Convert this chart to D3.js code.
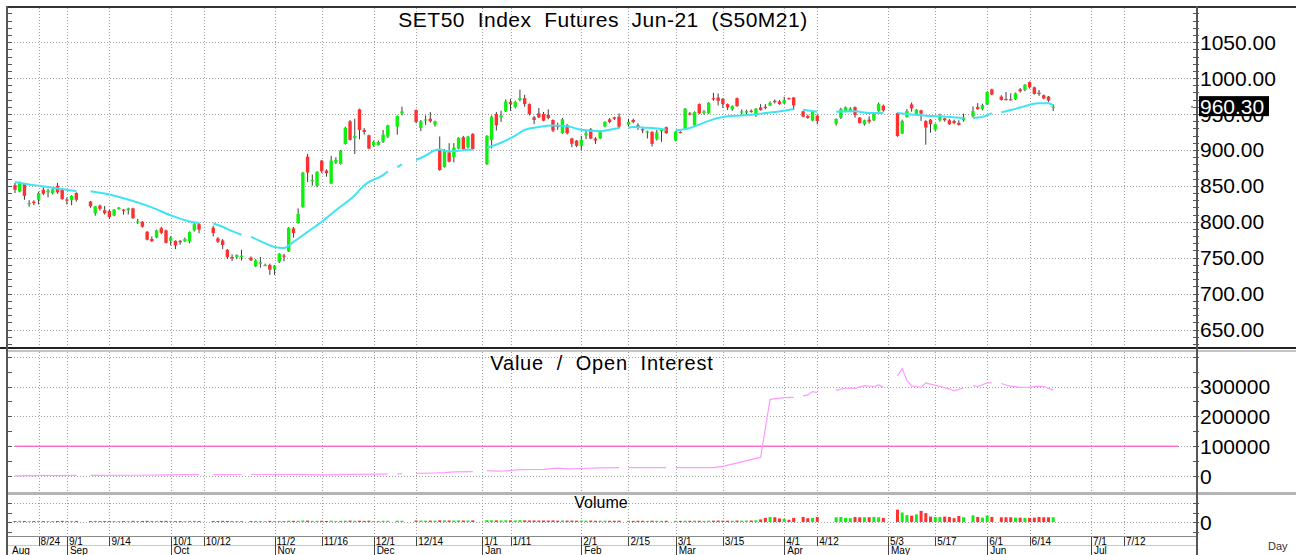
<!DOCTYPE html>
<html lang="en">
<head>
<meta charset="UTF-8">
<title>SET50 Index Futures Jun-21 (S50M21)</title>
<script src="https://d3js.org/d3.v7.min.js"></script>
<style>
  body { margin: 0; background: #fff; }
  svg { display: block; font-family: Arial, "Liberation Sans", sans-serif; }
</style>
</head>
<body>
<div id="chart"></div>
<script>
// candles: [slot (weekday index from 17 Aug 2020), open, high, low, close]
const candles = [
  [0,851,854,840,844.5],[1,842,856,841,854.6],[2,853,854,830.6,836],[3,825,830,821,826],[4,828,830,823,826],
  [5,830.6,842,824,840],[6,844.5,848,837,839],[7,841,846,834,843.5],[8,840,847,838,845],[9,850,854,839,841],
  [10,845.5,847,830.6,831.5],[11,831,834,824,830],[12,830,837,823,836],[13,840,841,828,830.6],
  [16,828,829,819.6,821.5],[17,812,822,808.5,821.5],[18,822.5,824,815.6,818],[19,816,822,810,812],
  [20,815,816.8,804,806.7],[21,808.5,817.7,807.6,817],[22,817.7,820.5,816.8,819.6],[23,817,817.7,810,816],
  [24,816,819.6,810,818.6],[25,818.6,819.6,804,805],[26,800,804,797,800.5],[27,800,801,791.8,793],
  [28,786,787,774,775],[29,776,779.6,772,773],[30,778,789,777,788],[31,791,793,782.8,784.6],
  [32,788,789,769.8,770.7],[33,773.5,780,767,778],[34,773.5,774,762,767],[35,773.5,774.5,768,771.6],
  [36,773,778,772,776],[37,772.6,786.4,770,785.5],[38,788,798.5,786.4,796.6],[39,796.6,798.5,784,789],
  [42,791.7,794.4,779.6,784.3],[43,776.8,778.7,770.4,772.2],[44,774,775.9,762,767.6],[45,761,762,748,751],
  [46,751,754.6,745.4,749],[47,751,754.6,748,753.7],[48,751,761,746,752.8],
  [50,750,751.8,745.4,746.3],[51,738,748,737,746.3],[52,741.7,751,736,743.5],[53,739,741.7,738,740],
  [54,740,741.7,726,733.3],[55,733.8,739.8,726,738.9],[56,744.4,756.3,742.6,755.5],[57,753,755.5,745,752.4],
  [58,758.8,792.6,757.9,791.7],[59,790.7,792.6,778,784.3],[60,798.2,818.5,797.3,811],[61,820.4,869.4,819.5,868.5],
  [62,890.7,894.4,855.5,868.5],[63,856.5,865.7,850.2,858.3],[64,850,870.4,848,869.4],[65,885.2,886.1,867.6,870.4],
  [66,871.3,873.1,862.8,867.6],[67,853,891.7,853,885.2],[68,882.4,889.8,880.5,886.1],[69,880.5,900,879.6,899],
  [70,908.3,932.4,907.4,930.6],[71,939.8,941.7,913,914],[72,916.8,943.5,894.4,919.6],[73,956.5,957.4,914.8,927.8],
  [74,927.8,930.6,921.3,925],[75,920.4,921.3,900.9,901.8],[76,906.5,913,904.6,911],[77,906.5,913,906.5,911.1],
  [78,911.6,927.8,909.7,921.3],[79,918.5,935.1,916.7,934.3],
  [81,932.4,948.1,921.3,947.2],[82,950.9,960.2,948.1,953.7],
  [85,955.5,956.5,937,939],[86,930.6,941.7,926,939.9],[87,942,948,935,942.6],[88,943.5,952.8,938,939.9],
  [89,935.2,940.8,932.5,939.9],[90,901,918.7,871,872],[91,876.3,901.2,875.4,898.4],[92,896.5,909.4,882.7,883.6],
  [93,890.1,909.4,882.7,903],[94,902,917.7,901,916.8],[95,917.7,919.6,900.3,901.2],[96,903.9,919.6,902,918.7],
  [97,922.4,923.3,900.3,901.2],
  [100,880,920.5,879,919.6],[101,914,948,902,946.3],[102,950,952.8,927,934.3],[103,945.4,954.6,939,948],
  [104,953.7,970.3,952.8,967.5],[105,966.6,971.2,954.6,963.8],[106,960,968.5,958,966.6],[107,969.4,984,967.5,972],
  [108,972,976.7,960,963.8],[109,963.8,964.7,948,950],[110,945.4,947.2,936,941.7],[111,951,958.3,944.5,945.4],
  [112,950,952.8,939.9,940.8],[113,949,956.5,942.6,944.5],[114,941.7,942.6,925,927],[115,933.4,938,927.9,932.5],
  [116,923.3,944.5,922.4,942.6],[117,934.3,936.2,921.4,923.3],[118,916,916.8,903.9,908.5],[119,913,913.9,903.9,905.7],
  [120,905.7,919.6,899.3,914],[121,920.5,927.9,915,923.3],[122,928.8,930.6,915,915.9],[123,915.9,917.7,908.4,913],
  [124,915.9,927.9,915,927],[125,932.5,939.9,931.6,939],[126,942.6,944.5,937,938.9],[127,945.4,946.3,941.7,943.5],
  [128,946.3,950.9,929.7,932.5],
  [130,935.3,943.5,932.5,938.9],[131,941.7,943.5,937.1,938.9],[132,934.3,937.1,927.9,931.6],[133,928.8,932.5,923.3,927],
  [134,924.2,926.9,915.9,925.9],[135,925.1,926,904.8,908.5],[136,915,927.9,913,924.2],[137,926,928.8,911.3,927.9],
  [138,931.6,932.5,922.4,923.3],
  [140,913.1,926,912.2,925.1],[141,925.1,926,923.3,924.2],[142,929.7,958.3,928.8,957.4],[143,950.9,952.8,948.2,949.1],
  [144,934.3,953.7,933.4,952.8],[145,963.8,964.7,949.9,950.9],[146,951.8,955.5,949.1,953.7],[147,950.9,966.6,950,965.7],
  [148,972.1,979.5,968.4,971.2],[149,973,978.6,962,968.4],[150,971.2,972.1,958.3,963.8],[151,963.8,964.7,955.5,959.2],
  [152,956.5,962,954.6,961],[153,972.1,973,960.1,961],[154,953.7,956.5,949.1,953.7],[155,952,956,950,954],
  [156,954.6,956.5,951.8,953.7],[157,949.1,958.3,946,957.4],[158,959.2,963.8,954.6,955.5],[159,960.1,963.8,956.5,958.3],
  [160,961.8,967.5,961,965.7],[161,968.4,970.3,964.7,966.6],[162,967.5,969.4,962.9,963.8],[163,964.7,974,963.8,969.4],
  [164,972.1,973,970.3,971.2],[165,973,973.5,955.5,962],
  [167,953.7,954.6,945.4,946.3],[168,947.2,949.1,943.5,944.5],[169,940.8,953.7,939.9,952.8],[170,947.7,949.5,935.8,940.4],
  [174,936.7,944,933.9,943.1],[175,945,958.7,943.1,956.9],[176,954.1,960.5,953.2,959.6],[177,954.1,959.6,953,957.8],
  [178,959.6,960.5,945,948.6],[179,945,945.9,936.7,937.6],[180,935.8,942.2,933.9,941.3],[181,942.2,946.8,936.7,939.4],
  [182,941.3,950.5,940.4,949.5],[183,954.1,966,953.2,964.2],[184,961.5,963.3,953.2,955],
  [187,951.4,952.3,918.3,919.3],[188,922.9,942.2,922,940.4],[189,945.9,956.9,945,954.1],[190,963.3,966,953.2,957.8],
  [191,949.5,956.9,947.7,956],[192,955,956,940.4,950.5],[193,940.4,941.3,907.3,931.2],[194,942.2,943.1,923.9,935.8],
  [195,928.4,936.7,926.6,935.8],[196,941.3,950.5,939.4,946.8],[197,944,944.9,939.4,941.3],[198,941.3,943.1,934.9,935.8],
  [199,940.4,942.2,935.8,937.6],[200,937.6,941.3,933.9,934.9],[201,941.3,950.5,939.4,945],
  [203,946.8,960.6,945,954.1],[204,959.6,965.1,956,956.9],[205,956.9,964.2,955,962.4],[206,963.3,981.7,962.4,980.7],
  [207,984.4,985.3,976.2,977.1],
  [209,974.3,976.2,968.8,969.7],[210,971,980.7,968.8,970.6],[211,970.6,978.9,968.8,969.7],[212,970.6,979.8,969.7,978.9],
  [213,984.4,986.2,979.8,981.7],[214,983.5,991.7,981.7,990.8],[215,994.5,995.4,985.3,987.2],[216,987.2,988.1,977.1,978],
  [217,979.8,983.5,975.2,978],[218,976.2,977.1,970.7,971.6],[219,974.3,975.2,967,968.8],[220,958.7,963.3,954.1,960.3]
];

// volume, one value per candle above (same order)
const volumes = [
  5000,6000,5500,4500,5000,6000,5000,4500,5000,5500,6000,4500,5000,5500,
  5000,6000,4500,5000,5500,5000,4500,5000,4500,6000,5000,5500,6000,4500,5000,5500,6000,5000,4500,5000,4500,5500,6000,5000,
  5500,5000,6000,5500,4500,5000,5000,
  5000,5500,5000,4500,6000,5000,5500,4500,7000,6000,6500,8000,7500,6000,6000,6500,5500,7000,5500,6500,7000,7500,6500,7000,6000,7000,5500,5500,6500,6500,
  7000,6500,
  8000,7500,7000,7500,7000,9000,8500,8000,8000,8500,8000,8000,8500,
  10000,9000,8500,8000,9000,8500,8000,9500,8500,8000,8000,7500,8000,7500,8500,7000,8000,7500,7500,7000,7500,7000,7500,6500,7000,7000,6500,6500,7000,
  6500,6000,6500,6500,6000,7000,6500,6000,6500,
  6500,6000,7000,6500,7000,6500,6000,7000,7000,7500,7000,7000,6500,7500,7000,7500,8000,9000,
  13500,21500,26500,25000,18500,16500,11500,21500,
  26500,20000,21500,26500,
  25000,26500,21500,20000,26500,25000,25000,25000,26500,25000,21500,
  65000,50000,36500,33500,40000,58500,46500,28500,26500,26500,28500,26500,20000,31500,25000,
  35000,26500,23000,33500,26500,
  25000,25000,25000,23000,23000,21500,21500,23000,26500,25000,25000,25000
];

// moving average, [slot, value]; null = break in the line
const maPoints = [
  [0,855.5],[4,851],[8,847.5],[12,843.5],[13,843], null,
  [16,842.5],[20,838],[25,829],[29,820],[33,809],[37,800.5],[39,798.3], null,
  [42,797.5],[44,793],[46,787],[48,782], null,
  [50,779],[52,773],[55,765],[57,763.5],[59,772],[62,786],[65,800],[68,816],[72,837],[74,851],[78,865],[79,870], null,
  [81,876],[82,880], null,
  [85,886],[87,892],[89,899.5],[90,900.5],[92,898],[94,899],[97,900.5], null,
  [100,903],[103,910],[106,920],[108,928],[111,932],[114,934],[117,933],[120,928],[124,926],[126,928],[128,930.6], null,
  [130,931],[131,932],[133,931],[135,930.6],[138,928.2], null,
  [140,927.3],[142,929],[143,930.6],[146,938],[149,944.4],[151,946.8],[154,948],[156,949],[159,951.4],[163,954.6],[165,957], null,
  [167,956],[170,953.2], null,
  [174,953.2],[178,953.7],[181,951.4],[184,951.4], null,
  [187,951.4],[190,949.5],[193,947.7],[196,946.8],[198,945.9],[201,944.5], null,
  [203,944.5],[205,946],[207,951.4], null,
  [209,952.3],[211,955.5],[213,959],[215,963],[217,965.1],[219,965.1],[220,962]
];

// open interest, [slot, value]
const oiPoints = [
  [0,1500],[4,2500],[6,3500],[8,2000],[13,3000], null,
  [16,3000],[25,3500],[32,4500],[36,5500],[39,5500], null,
  [42,5500],[48,6000], null,
  [50,6000],[60,6500],[66,5000],[70,6500],[79,7000], null,
  [81,8000],[82,9000], null,
  [85,10000],[89,11000],[91,12000],[93,15000],[97,15500], null,
  [100,19000],[102,17000],[104,18000],[107,22000],[112,23000],[115,27000],[117,25000],[120,26000],[124,28000],[128,29000], null,
  [130,29000],[138,29000], null,
  [140,29000],[148,29000],[150,33000],[154,48000],[157,60000],[158,63000],[159,160000],[160,257000],[163,263000],[165,264000], null,
  [167,268000],[168,272000],[169,283000],[170,280000], null,
  [174,287000],[176,295000],[178,294000],[180,303000],[182,300000],[183,305000],[184,298000], null,
  [187,335000],[188,360000],[189,320000],[190,302000],[191,300000],[192,296000],[193,312000],[194,308000],[196,300000],[198,292000],[199,286000],[200,290000],[201,296000], null,
  [203,303000],[204,300000],[205,306000],[206,312000],[207,312000], null,
  [209,310000],[210,305000],[211,301000],[213,297000],[215,298000],[217,301000],[218,300000],[220,288000]
];
const oiRefLine = { level: 100000, from: 0, to: 246.5 };

const dayTicks = [
  [5,"8/24"],[11,"9/1"],[20,"9/14"],[33,"10/1"],[40,"10/12"],[55,"11/2"],[65,"11/16"],[76,"12/1"],
  [85,"12/14"],[99,"1/1"],[105,"1/11"],[120,"2/1"],[130,"2/15"],[140,"3/1"],[150,"3/15"],[163,"4/1"],
  [170,"4/12"],[185,"5/3"],[195,"5/17"],[206,"6/1"],[215,"6/14"],[228,"7/1"],[235,"7/12"]
];
const monthTicks = [
  [-1.3,"Aug"],[11,"Sep"],[33,"Oct"],[55,"Nov"],[76,"Dec"],[99,"Jan"],[120,"Feb"],
  [140,"Mar"],[163,"Apr"],[185,"May"],[206,"Jun"],[228,"Jul"]
];
const priceTicks = [650,700,750,800,850,900,950,1000,1050];
const oiTicks = [0,100000,200000,300000];
const oiGrid = [0,100000,200000,300000,400000];
const volTicks = [0];
const volGrid = [0,100000];
const lastPrice = 960.30;

const titleMain = "SET50  Index  Futures  Jun-21  (S50M21)";
const titleOI = "Value  /  Open  Interest";
const titleVol = "Volume";

// ---- layout
const W = 1296, H = 555;
const L = 8, R = 1197;
const main = {top: 8, bottom: 348};
const mid = {top: 352, bottom: 492};
const vol = {top: 494, bottom: 536};

const x = d3.scaleLinear().domain([0, 235]).range([15, 1124]);
const yP = d3.scaleLinear().domain([650, 1050]).range([329.5, 42.2]);
const yOI = d3.scaleLinear().domain([0, 300000]).range([476.3, 386.5]);
const yV = d3.scaleLinear().domain([0, 100000]).range([522, 503]);

const svg = d3.select("#chart").append("svg")
  .attr("width", W).attr("height", H);

const defs = svg.append("defs");
[["clipMain", main], ["clipMid", mid], ["clipVol", vol]].forEach(([id, p]) => {
  defs.append("clipPath").attr("id", id).append("rect")
    .attr("x", L).attr("y", p.top).attr("width", R - L).attr("height", p.bottom - p.top);
});

const px = v => Math.round(v) + 0.5;
const grid = svg.append("g")
  .attr("stroke", "#a0a0a0").attr("stroke-dasharray", "1,2")
  .attr("shape-rendering", "crispEdges");

// vertical grid through all three panels
dayTicks.forEach(([s]) => {
  [main, mid, vol].forEach(p => {
    grid.append("line").attr("x1", px(x(s))).attr("x2", px(x(s)))
      .attr("y1", p.top).attr("y2", p.bottom);
  });
});
priceTicks.forEach(t => grid.append("line").attr("x1", L).attr("x2", R)
  .attr("y1", px(yP(t))).attr("y2", px(yP(t))));
oiGrid.forEach(t => grid.append("line").attr("x1", L).attr("x2", R)
  .attr("y1", px(yOI(t))).attr("y2", px(yOI(t))));
volGrid.forEach(t => grid.append("line").attr("x1", L).attr("x2", R)
  .attr("y1", px(yV(t))).attr("y2", px(yV(t))));

// ---- candles
const up = "#10f010", down = "#ff3030";
const gMain = svg.append("g").attr("clip-path", "url(#clipMain)");
const bw = 3.4;
gMain.selectAll("line.wick").data(candles).join("line")
  .attr("class", "wick")
  .attr("x1", d => x(d[0])).attr("x2", d => x(d[0]))
  .attr("y1", d => yP(d[2])).attr("y2", d => yP(d[3]))
  .attr("stroke", "#3c3c3c").attr("stroke-width", 1);
gMain.selectAll("rect.body").data(candles).join("rect")
  .attr("class", "body")
  .attr("x", d => x(d[0]) - bw / 2)
  .attr("width", bw)
  .attr("y", d => yP(Math.max(d[1], d[4])))
  .attr("height", d => Math.max(1.2, Math.abs(yP(d[1]) - yP(d[4]))))
  .attr("fill", d => d[4] >= d[1] ? up : down);

// moving average
const maLine = d3.line().defined(d => d).x(d => x(d[0])).y(d => yP(d[1]))
  .curve(d3.curveMonotoneX);
gMain.append("path").attr("d", maLine(maPoints))
  .attr("fill", "none").attr("stroke", "#3fe4f4").attr("stroke-width", 2);

// ---- open interest
const gMid = svg.append("g").attr("clip-path", "url(#clipMid)");
gMid.append("line")
  .attr("x1", x(oiRefLine.from)).attr("x2", x(oiRefLine.to))
  .attr("y1", yOI(oiRefLine.level)).attr("y2", yOI(oiRefLine.level))
  .attr("stroke", "#ff6ccc").attr("stroke-width", 1.5);
const oiLine = d3.line().defined(d => d).x(d => x(d[0])).y(d => yOI(d[1]));
gMid.append("path").attr("d", oiLine(oiPoints))
  .attr("fill", "none").attr("stroke", "#ff99ff").attr("stroke-width", 1.2);

// ---- volume
const gVol = svg.append("g").attr("clip-path", "url(#clipVol)");
gVol.selectAll("rect").data(candles).join("rect")
  .attr("x", d => x(d[0]) - 1.5)
  .attr("width", 3)
  .attr("y", (d, i) => yV(volumes[i] || 0))
  .attr("height", (d, i) => yV(0) - yV(volumes[i] || 0))
  .attr("fill", d => d[4] >= d[1] ? up : down);

// ---- frame lines
const frame = svg.append("g").attr("shape-rendering", "crispEdges");
frame.append("line").attr("x1", 6).attr("x2", W).attr("y1", 7).attr("y2", 7)
  .attr("stroke", "#333").attr("stroke-width", 2);
frame.append("line").attr("x1", 0).attr("x2", W).attr("y1", 348).attr("y2", 348)
  .attr("stroke", "#222").attr("stroke-width", 2);
frame.append("line").attr("x1", 7).attr("x2", W).attr("y1", 351).attr("y2", 351)
  .attr("stroke", "#c4c4c4").attr("stroke-width", 2);
frame.append("line").attr("x1", 7).attr("x2", W).attr("y1", 493).attr("y2", 493)
  .attr("stroke", "#b4b4b4").attr("stroke-width", 3);
frame.append("line").attr("x1", 7).attr("x2", R).attr("y1", 536.5).attr("y2", 536.5)
  .attr("stroke", "#8a8a8a").attr("stroke-width", 1.5);
frame.append("line").attr("x1", 7).attr("x2", R).attr("y1", 545.5).attr("y2", 545.5)
  .attr("stroke", "#c8c8c8").attr("stroke-width", 1);
frame.append("line").attr("x1", 7).attr("x2", 7).attr("y1", 6).attr("y2", H)
  .attr("stroke", "#555").attr("stroke-width", 2);
frame.append("line").attr("x1", R).attr("x2", R).attr("y1", 6).attr("y2", H)
  .attr("stroke", "#555").attr("stroke-width", 2);

// minor ticks on both edges
const minor = svg.append("g").attr("stroke", "#555").attr("shape-rendering", "crispEdges");
function edgeTicks(vals, scale, p) {
  vals.map(scale).filter(y => y > p.top + 1 && y < p.bottom - 1).forEach(y => {
    minor.append("line").attr("x1", L).attr("x2", L + 4).attr("y1", px(y)).attr("y2", px(y));
    minor.append("line").attr("x1", R - 4).attr("x2", R + 2).attr("y1", px(y)).attr("y2", px(y));
  });
}
edgeTicks(d3.range(620, 1110, 10), yP, main);
edgeTicks(d3.range(-50000, 450000, 50000), yOI, mid);
edgeTicks(d3.range(-100000, 200000, 50000), yV, vol);

// ---- right axis labels
const axisFont = 21;
svg.append("g").selectAll("text").data(priceTicks).join("text")
  .attr("x", R + 3).attr("y", d => yP(d) + 7.5)
  .attr("font-size", axisFont).attr("fill", "#000")
  .text(d => d3.format(".2f")(d));
svg.append("g").selectAll("text").data(oiTicks).join("text")
  .attr("x", R + 3).attr("y", d => yOI(d) + 7.5)
  .attr("font-size", axisFont).attr("fill", "#000")
  .text(d => d);
svg.append("g").selectAll("text").data(volTicks).join("text")
  .attr("x", R + 3).attr("y", d => yV(d) + 7.5)
  .attr("font-size", axisFont).attr("fill", "#000")
  .text(d => d);

// last price marker (sits over the 950.00 label, as in the source chart)
svg.append("circle").attr("cx", R - 5).attr("cy", yP(lastPrice)).attr("r", 1).attr("fill", "#888");
svg.append("rect").attr("x", R + 2).attr("y", yP(lastPrice) - 10.5)
  .attr("width", 70).attr("height", 20).attr("fill", "#000");
svg.append("text").attr("x", R + 3).attr("y", yP(lastPrice) + 7.5)
  .attr("font-size", axisFont).attr("fill", "#fff")
  .text(d3.format(".2f")(lastPrice));

// ---- titles
svg.append("text").attr("x", 603).attr("y", 27).attr("text-anchor", "middle")
  .attr("font-size", 21).attr("letter-spacing", 0.5)
  .attr("xml:space", "preserve").style("white-space", "pre")
  .text(titleMain);
svg.append("text").attr("x", 602).attr("y", 370).attr("text-anchor", "middle")
  .attr("font-size", 20).attr("letter-spacing", 0.8)
  .attr("xml:space", "preserve").style("white-space", "pre")
  .text(titleOI);
svg.append("text").attr("x", 601).attr("y", 508).attr("text-anchor", "middle")
  .attr("font-size", 16).text(titleVol);

// ---- date axis
const dates = svg.append("g").attr("font-size", 10).attr("fill", "#000");
dayTicks.forEach(([s, lab]) => {
  dates.append("line").attr("x1", px(x(s))).attr("x2", px(x(s)))
    .attr("y1", 537).attr("y2", 546).attr("stroke", "#444").attr("shape-rendering", "crispEdges");
  dates.append("text").attr("x", x(s) + 2).attr("y", 545).text(lab);
});
monthTicks.forEach(([s, lab]) => {
  if (s >= 0) {
    dates.append("line").attr("x1", px(x(s))).attr("x2", px(x(s)))
      .attr("y1", 546).attr("y2", H).attr("stroke", "#444").attr("shape-rendering", "crispEdges");
  }
  dates.append("text").attr("x", Math.max(x(s), 9) + 3).attr("y", 554).text(lab);
});
svg.append("text").attr("x", 1268).attr("y", 550).attr("font-size", 11).attr("fill", "#333").text("Day");
</script>
</body>
</html>
